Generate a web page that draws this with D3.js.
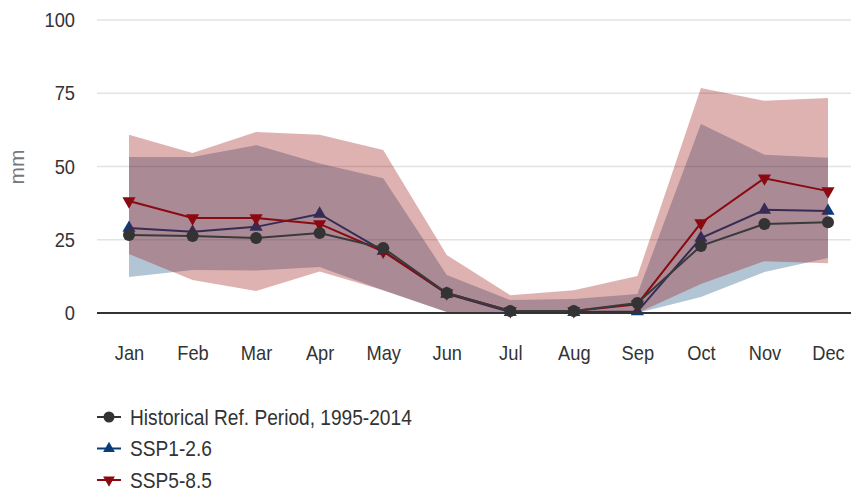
<!DOCTYPE html>
<html lang="en">
    <head>
        <meta charset="utf-8">
        <title>Monthly precipitation</title>
        <script type="text/javascript" src="https://d3js.org/d3.v7.min.js"></script>
        <style>
            body {
                margin: 0;
                background: #fff;
            }
            text {
                font-family: "Liberation Sans", Arial, sans-serif;
            }
        </style>
    </head>
    <body>
        <script>
            // data
            const months = ["Jan","Feb","Mar","Apr","May","Jun","Jul","Aug","Sep","Oct","Nov","Dec"];
            const histVals   = [26.6, 26.3, 25.6, 27.3, 22.2, 6.8, 0.7, 0.7, 3.4, 22.9, 30.4, 31.0];
            const ssp126Vals = [29.0, 27.7, 29.4, 33.8, 21.2, 6.5, 0.3, 0.3, 0.5, 25.6, 35.2, 34.8];
            const ssp585Vals = [38.2, 32.4, 32.4, 30.4, 21.0, 6.8, 0.7, 0.7, 3.0, 30.7, 46.0, 41.6];
            const ssp126Low  = [12.3, 14.7, 14.5, 15.7, 7.8, 0.3, 0, 0, 0, 5.5, 14.0, 18.8];
            const ssp126High = [53.2, 53.2, 57.3, 51.0, 46.0, 13.0, 4.4, 4.8, 6.5, 64.5, 54.0, 53.0];
            const ssp585Low  = [20.1, 11.3, 7.5, 14.2, 7.8, 0.3, 0, 0, 0, 9.9, 17.7, 17.0];
            const ssp585High = [60.8, 54.6, 61.8, 60.8, 55.6, 19.8, 6.1, 7.8, 12.6, 76.8, 72.4, 73.4];
            const yTicks = [0, 25, 50, 75, 100];
            const legendLabels = ["Historical Ref. Period, 1995-2014", "SSP1-2.6", "SSP5-8.5"];

            const w = 851;
            const h = 494;
            const svg = d3.select("body")
                        .append("svg")
                        .attr("width", w)
                        .attr("height", h);

            const plotLeft = 97;
            const narrow = 0.87;   // squeeze text, the original face is narrower than Arial
            const histColor = "#333333";
            const blueColor = "#0c3c78";
            const redColor = "#8b0a12";

            // scales
            const xScale = d3.scalePoint()
                            .domain(months)
                            .range([129, 828]);
            const yScale = d3.scaleLinear()
                            .domain([0, 100])
                            .range([313, 20]);

            // gridlines
            svg.append("g")
                .selectAll("line")
                .data(yTicks.filter(d => d > 0))
                .enter()
                .append("line")
                .attr("x1", plotLeft)
                .attr("x2", w)
                .attr("y1", d => yScale(d))
                .attr("y2", d => yScale(d))
                .attr("stroke", "#e3e3e3")
                .attr("stroke-width", 1.5);

            // y axis labels
            const yAxis = d3.axisLeft(yScale)
                            .tickValues(yTicks)
                            .tickSize(0)
                            .tickPadding(0);
            svg.append("g")
                .attr("class", "y axis")
                .attr("transform", "translate(75,0)")
                .call(yAxis)
                .call(g => g.select(".domain").remove())
                .selectAll("text")
                .attr("font-size", 21)
                .attr("fill", "#333")
                .attr("transform", `scale(${narrow},1)`)
                .style("font-family", "'Liberation Sans', Arial, sans-serif");

            svg.append("text")
                .attr("transform", "translate(24,167) rotate(-90)")
                .attr("text-anchor", "middle")
                .attr("font-size", 21)
                .attr("fill", "#777")
                .text("mm");

            // x axis labels
            const xAxis = d3.axisBottom(xScale)
                            .tickSize(0)
                            .tickPadding(0);
            svg.append("g")
                .attr("class", "x axis")
                .attr("transform", "translate(0,345)")
                .call(xAxis)
                .call(g => g.select(".domain").remove())
                .selectAll("text")
                .attr("font-size", 21)
                .attr("fill", "#333")
                .attr("transform", `scale(${narrow},1)`)
                .style("font-family", "'Liberation Sans', Arial, sans-serif");

            const idx = d3.range(months.length);

            const area = (lo, hi) => d3.area()
                            .x(i => xScale(months[i]))
                            .y0(i => yScale(lo[i]))
                            .y1(i => yScale(hi[i]));
            const line = vals => d3.line()
                            .x(i => xScale(months[i]))
                            .y(i => yScale(vals[i]));

            const triUp = d3.symbol().type(d3.symbolTriangle).size(75);

            function drawLine(vals, color) {
                svg.append("path")
                    .datum(idx)
                    .attr("d", line(vals))
                    .attr("fill", "none")
                    .attr("stroke", color)
                    .attr("stroke-width", 2);
            }
            function drawMarkers(vals, color, kind) {
                const g = svg.append("g");
                if (kind === "circle") {
                    g.selectAll("circle")
                        .data(idx)
                        .enter()
                        .append("circle")
                        .attr("cx", i => xScale(months[i]))
                        .attr("cy", i => yScale(vals[i]))
                        .attr("r", 6)
                        .attr("fill", color);
                } else {
                    const rot = kind === "down" ? 180 : 0;
                    g.selectAll("path")
                        .data(idx)
                        .enter()
                        .append("path")
                        .attr("d", triUp())
                        .attr("transform", i => `translate(${xScale(months[i])},${yScale(vals[i])}) rotate(${rot})`)
                        .attr("fill", color);
                }
            }

            // SSP1-2.6 range + line
            svg.append("path")
                .datum(idx)
                .attr("d", area(ssp126Low, ssp126High))
                .attr("fill", "#084476")
                .attr("fill-opacity", 0.31);
            drawLine(ssp126Vals, blueColor);
            drawMarkers(ssp126Vals, blueColor, "up");

            // SSP5-8.5 range + line
            svg.append("path")
                .datum(idx)
                .attr("d", area(ssp585Low, ssp585High))
                .attr("fill", "#980508")
                .attr("fill-opacity", 0.31);
            drawLine(ssp585Vals, redColor);
            drawMarkers(ssp585Vals, redColor, "down");

            // historical
            drawLine(histVals, "#3a3a3a");
            drawMarkers(histVals, histColor, "circle");

            // baseline
            svg.append("line")
                .attr("x1", plotLeft)
                .attr("x2", w)
                .attr("y1", yScale(0))
                .attr("y2", yScale(0))
                .attr("stroke", "#333")
                .attr("stroke-width", 2);

            // legend
            const legendColors = [histColor, blueColor, redColor];
            const legendKinds = ["circle", "up", "down"];
            const legendSym = d3.symbol().type(d3.symbolTriangle).size(60);
            const legend = svg.append("g")
                .selectAll("g")
                .data(legendLabels)
                .enter()
                .append("g")
                .attr("transform", (d, i) => `translate(97,${417 + i * 31.5})`);
            legend.append("line")
                .attr("x1", 0)
                .attr("x2", 24)
                .attr("stroke", (d, i) => legendColors[i])
                .attr("stroke-width", 2);
            legend.each(function(d, i) {
                const g = d3.select(this);
                if (legendKinds[i] === "circle") {
                    g.append("circle").attr("cx", 12).attr("r", 5.5).attr("fill", legendColors[i]);
                } else {
                    g.append("path")
                        .attr("d", legendSym())
                        .attr("transform", `translate(12,0) rotate(${legendKinds[i] === "down" ? 180 : 0})`)
                        .attr("fill", legendColors[i]);
                }
            });
            legend.append("text")
                .attr("transform", `translate(33,0) scale(${narrow},1)`)
                .attr("dy", "0.36em")
                .attr("font-size", 22)
                .attr("fill", "#333")
                .text(d => d);
        </script>
    </body>
</html>
